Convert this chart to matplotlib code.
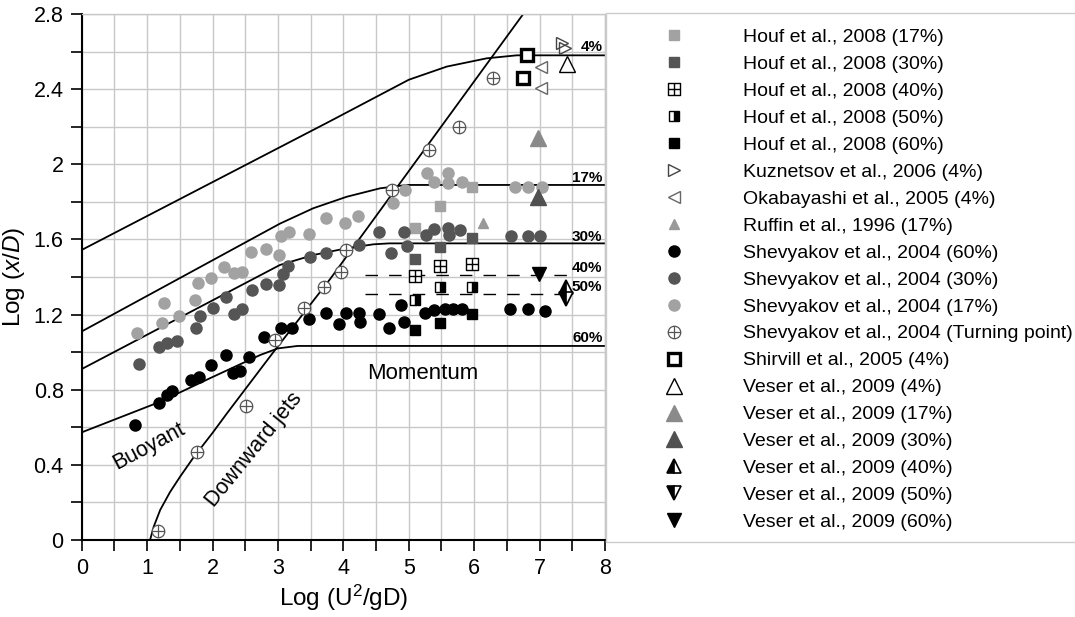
import matplotlib
matplotlib.use("Agg")
from matplotlib import pyplot as plt
from matplotlib.path import Path
from matplotlib.patches import Rectangle
import numpy as np

plt.rcParams['font.family'] = ['Liberation Sans', 'DejaVu Sans']
plt.rcParams['mathtext.fontset'] = 'custom'
plt.rcParams['mathtext.it'] = 'Liberation Sans:italic'
plt.rcParams['mathtext.rm'] = 'Liberation Sans'

# correlation curves for each hydrogen concentration, Log(U^2/gD) vs Log(x/D)
curve_4_x = [0, 3.8, 5.0, 5.58, 6.19, 6.65, 8.0]
curve_4_y = [1.544, 2.23, 2.45, 2.52, 2.564, 2.58, 2.58]
curve_17_x = [0, 3.03, 3.54, 4.05, 4.56, 4.97, 8.0]
curve_17_y = [1.11, 1.684, 1.766, 1.827, 1.872, 1.89, 1.89]
curve_30_x = [0, 3.03, 3.54, 4.05, 4.46, 4.7, 8.0]
curve_30_y = [0.91, 1.464, 1.517, 1.553, 1.574, 1.579, 1.579]
curve_60_x = [0, 1.2, 1.96, 2.73, 3.0, 3.3, 8.0]
curve_60_y = [0.573, 0.736, 0.861, 0.985, 1.02, 1.033, 1.033]
jets_x = [1.045, 1.1, 1.2, 1.35, 1.5, 1.71, 2.0, 2.22, 2.93, 3.8, 6.75]
jets_y = [0, 0.07, 0.16, 0.255, 0.335, 0.44, 0.57, 0.674, 1.0, 1.39, 2.8]
dash_x = [4.33, 7.45]
dash_40_y = [1.41, 1.41]
dash_50_y = [1.31, 1.31]

curve_labels = ["4%", "17%", "30%", "40%", "50%", "60%"]
curve_label_y = [2.625, 1.925, 1.611, 1.446, 1.349, 1.074]

# experimental data
houf17_x = [5.10, 5.47, 5.96]
houf17_y = [1.659, 1.780, 1.877]
houf30_x = [5.10, 5.47, 5.96]
houf30_y = [1.494, 1.561, 1.609]
houf40_x = [5.10, 5.47, 5.96]
houf40_y = [1.405, 1.459, 1.468]
houf50_x = [5.10, 5.47, 5.96]
houf50_y = [1.278, 1.349, 1.349]
houf60_x = [5.10, 5.47, 5.96]
houf60_y = [1.118, 1.157, 1.201]
kuz_x = [7.35, 7.39]
kuz_y = [2.644, 2.617]
okab_x = [7.02, 7.02]
okab_y = [2.52, 2.404]
ruffin_x = [6.13]
ruffin_y = [1.689]
shev60_x = [0.815, 1.18, 1.30, 1.386, 1.67, 1.79, 1.98, 2.21, 2.31, 2.42, 2.56,
            2.78, 3.05, 3.21, 3.48, 3.73, 3.94, 4.04, 4.245, 4.255, 4.55, 4.70,
            4.88, 4.92, 5.25, 5.39, 5.555, 5.67, 5.81, 6.55, 6.83, 7.08]
shev60_y = [0.612, 0.731, 0.772, 0.795, 0.852, 0.866, 0.932, 0.985, 0.891, 0.900, 0.976,
            1.082, 1.127, 1.127, 1.175, 1.207, 1.150, 1.210, 1.210, 1.162, 1.203, 1.130,
            1.251, 1.162, 1.210, 1.224, 1.228, 1.231, 1.228, 1.228, 1.228, 1.221]
shev30_x = [0.877, 1.18, 1.30, 1.46, 1.74, 1.81, 2.0, 2.20, 2.33, 2.45, 2.60, 2.81,
            3.02, 3.08, 3.15, 3.49, 3.73, 4.24, 4.55, 4.73, 4.93, 4.97, 5.26, 5.39,
            5.60, 5.61, 5.78, 6.57, 6.83, 7.01]
shev30_y = [0.937, 1.026, 1.05, 1.061, 1.127, 1.194, 1.237, 1.292, 1.203, 1.228, 1.331, 1.361,
            1.357, 1.414, 1.459, 1.508, 1.526, 1.570, 1.641, 1.529, 1.641, 1.565, 1.624, 1.656,
            1.659, 1.624, 1.650, 1.62, 1.62, 1.62]
shev17_x = [0.84, 1.22, 1.26, 1.48, 1.73, 1.78, 1.98, 2.18, 2.33, 2.45, 2.59, 2.82,
            3.01, 3.05, 3.17, 3.48, 3.73, 4.03, 4.23, 4.755, 4.94, 5.28, 5.38, 5.605,
            5.605, 5.81, 6.625, 6.83, 7.03]
shev17_y = [1.10, 1.153, 1.26, 1.194, 1.278, 1.37, 1.393, 1.455, 1.42, 1.428, 1.535, 1.549,
            1.517, 1.618, 1.641, 1.629, 1.714, 1.69, 1.725, 1.796, 1.863, 1.952, 1.907, 1.955,
            1.902, 1.907, 1.881, 1.881, 1.881]
turn_x = [1.17, 1.77, 2.51, 2.955, 3.40, 3.70, 3.965, 4.04, 4.75, 5.31, 5.77, 6.29]
turn_y = [0.048, 0.47, 0.713, 1.065, 1.235, 1.345, 1.428, 1.544, 1.865, 2.078, 2.20, 2.457]
shir_x = [6.80, 6.74]
shir_y = [2.582, 2.461]
veser4_x = [7.42]
veser4_y = [2.534]
veser17_x = [6.98]
veser17_y = [2.138]
veser30_x = [6.98]
veser30_y = [1.824]
veser40_x = [7.41]
veser40_y = [1.349]
veser50_x = [7.41]
veser50_y = [1.281]
veser60_x = [6.99]
veser60_y = [1.416]

x_ticks = [0, 1, 2, 3, 4, 5, 6, 7, 8]
y_ticks = [0, 0.4, 0.8, 1.2, 1.6, 2.0, 2.4, 2.8]
y_tick_labels = ["0", "0.4", "0.8", "1.2", "1.6", "2", "2.4", "2.8"]


def cross_marker(base):
    # outline shape with a cross through its centre
    h = Path([[-1, 0], [1, 0]], [Path.MOVETO, Path.LINETO])
    v = Path([[0, -1], [0, 1]], [Path.MOVETO, Path.LINETO])
    return Path.make_compound_path(base, h, v)


square = Path([[-1, -1], [1, -1], [1, 1], [-1, 1], [-1, -1]],
              [Path.MOVETO, Path.LINETO, Path.LINETO, Path.LINETO, Path.CLOSEPOLY])
boxplus = cross_marker(square)
oplus = cross_marker(Path.unit_circle())

light = "#a2a2a2"
dark = "#555555"

fig = plt.figure(figsize=(10.75, 6.17), dpi=100)
ax = fig.add_axes([0.076, 0.1248, 0.4868, 0.8525])

for cx, cy in [(curve_4_x, curve_4_y), (curve_17_x, curve_17_y),
               (curve_30_x, curve_30_y), (curve_60_x, curve_60_y), (jets_x, jets_y)]:
    ax.plot(cx, cy, color="black", lw=1.3, zorder=2)
for dy in [dash_40_y, dash_50_y]:
    ax.plot(dash_x, dy, color="black", lw=1.0, dashes=(9, 8), zorder=2)

for lab, ly in zip(curve_labels, curve_label_y):
    ax.text(7.96, ly, lab, ha="right", va="center", fontsize=11, fontweight="bold", zorder=5)

ax.text(1.03, 0.50, "Buoyant", rotation=28, ha="center", va="center", fontsize=15.5)
ax.text(2.64, 0.48, "Downward jets", rotation=51, ha="center", va="center", fontsize=15.5)
ax.text(5.22, 0.887, "Momentum", ha="center", va="center", fontsize=16)

kw = dict(linestyle="none", zorder=4)
ax.plot(houf17_x, houf17_y, marker="s", ms=7.5, mfc=light, mec=light, label="Houf et al., 2008 (17%)", **kw)
ax.plot(houf30_x, houf30_y, marker="s", ms=7.5, mfc=dark, mec=dark, label="Houf et al., 2008 (30%)", **kw)
ax.plot(houf40_x, houf40_y, marker=boxplus, ms=8, mfc="white", mec="black", mew=1.0,
        label="Houf et al., 2008 (40%)", **kw)
ax.plot(houf50_x, houf50_y, marker="s", ms=7.5, fillstyle="right", mfc="black", mfcalt="white",
        mec="black", mew=1.0, label="Houf et al., 2008 (50%)", **kw)
ax.plot(houf60_x, houf60_y, marker="s", ms=7.5, mfc="black", mec="black", label="Houf et al., 2008 (60%)", **kw)
ax.plot(kuz_x, kuz_y, marker=">", ms=9, mfc="none", mec="#444444", mew=1.0,
        label="Kuznetsov et al., 2006 (4%)", **kw)
ax.plot(okab_x, okab_y, marker="<", ms=9, mfc="white", mec="#666666", mew=1.0,
        label="Okabayashi et al., 2005 (4%)", **kw)
ax.plot(ruffin_x, ruffin_y, marker="^", ms=7, mfc="#999999", mec="#999999",
        label="Ruffin et al., 1996 (17%)", **kw)
ax.plot(shev60_x, shev60_y, marker="o", ms=8, mfc="black", mec="black",
        label="Shevyakov et al., 2004 (60%)", **kw)
ax.plot(shev30_x, shev30_y, marker="o", ms=8, mfc=dark, mec=dark,
        label="Shevyakov et al., 2004 (30%)", **kw)
ax.plot(shev17_x, shev17_y, marker="o", ms=8, mfc=light, mec=light,
        label="Shevyakov et al., 2004 (17%)", **kw)
ax.plot(turn_x, turn_y, marker=oplus, ms=9, mfc="white", mec="#555555", mew=0.9,
        label="Shevyakov et al., 2004 (Turning point)", **kw)
ax.plot(shir_x, shir_y, marker="s", ms=8.5, mfc="white", mec="black", mew=2.4,
        label="Shirvill et al., 2005 (4%)", **kw)
ax.plot(veser4_x, veser4_y, marker="^", ms=11, mfc="white", mec="black", mew=1.0,
        label="Veser et al., 2009 (4%)", **kw)
ax.plot(veser17_x, veser17_y, marker="^", ms=11, mfc="#8a8a8a", mec="#8a8a8a",
        label="Veser et al., 2009 (17%)", **kw)
ax.plot(veser30_x, veser30_y, marker="^", ms=11, mfc="#505050", mec="#505050",
        label="Veser et al., 2009 (30%)", **kw)
ax.plot(veser40_x, veser40_y, marker="^", ms=10, fillstyle="left", mfc="black", mfcalt="white",
        mec="black", mew=1.2, label="Veser et al., 2009 (40%)", **kw)
ax.plot(veser50_x, veser50_y, marker="v", ms=10, fillstyle="left", mfc="black", mfcalt="white",
        mec="black", mew=1.2, label="Veser et al., 2009 (50%)", **kw)
ax.plot(veser60_x, veser60_y, marker="v", ms=10, mfc="black", mec="black",
        label="Veser et al., 2009 (60%)", **kw)

ax.set_xlim(0, 8)
ax.set_ylim(0, 2.8)
ax.set_xticks(x_ticks)
ax.set_xticks(np.arange(0.5, 8, 1.0), minor=True)
ax.set_yticks(y_ticks)
ax.set_yticklabels(y_tick_labels)
ax.set_yticks(np.arange(0.2, 2.8, 0.4), minor=True)
ax.grid(which="both", color="#c8c8c8", lw=1.0)
ax.set_axisbelow(True)
ax.tick_params(which="both", direction="out", length=8, width=1.2, labelsize=15.5, pad=5)
for side in ["left", "bottom"]:
    ax.spines[side].set_linewidth(1.5)
for side in ["top", "right"]:
    ax.spines[side].set_color("#c8c8c8")
    ax.spines[side].set_linewidth(1.0)

ax.set_xlabel("Log (U$^2$/gD)", fontsize=17.5, labelpad=3)
ax.set_ylabel("Log ($x/D$)", fontsize=17.5, labelpad=5)

fig.patches.append(Rectangle((606 / 1075, 1 - 542 / 617), 0.45, 529 / 617,
                             transform=fig.transFigure, fill=False, ec="#cccccc", lw=1.0))

handles, labels = ax.get_legend_handles_labels()
fig.legend(handles, labels, loc="upper left", bbox_to_anchor=(654.5 / 1075, 1 - 28.5 / 617),
           frameon=False, fontsize=14, handlelength=2, handletextpad=2.55,
           labelspacing=0.48, borderpad=0, borderaxespad=0, numpoints=1)

fig.savefig("out.png", dpi=100)
